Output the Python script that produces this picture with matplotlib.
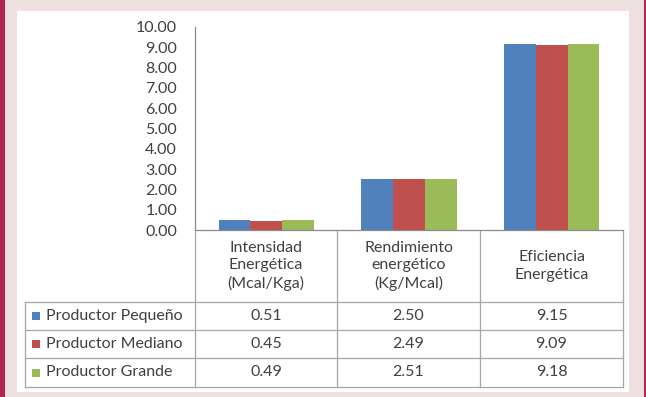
import numpy as np
import matplotlib.pyplot as plt
from matplotlib.lines import Line2D
from matplotlib.patches import Rectangle

categories = ["Intensidad\nEnergética\n(Mcal/Kga)",
              "Rendimiento\nenergético\n(Kg/Mcal)",
              "Eficiencia\nEnergética"]
series = ["Productor Pequeño", "Productor Mediano", "Productor Grande"]
pequeno = [0.51, 2.50, 9.15]
mediano = [0.45, 2.49, 9.09]
grande = [0.49, 2.51, 9.18]
y_ticks = [0, 1, 2, 3, 4, 5, 6, 7, 8, 9, 10]

COLORS = ["#4F81BD", "#C0504D", "#9BBB59"]
TEXT = "#404040"
GRID = "#a6a6a6"
W, H = 646, 397
FS = 11.5

plt.rcParams["font.family"] = ["Lato", "DejaVu Sans"]


def fx(x):
    return x / W


def fy(y):
    return 1 - y / H


def hline(fig, x0, x1, y, color=GRID, lw=0.9):
    fig.add_artist(Line2D([fx(x0), fx(x1)], [fy(y), fy(y)], color=color, lw=lw,
                          transform=fig.transFigure))


def vline(fig, x, y0, y1, color=GRID, lw=0.9):
    fig.add_artist(Line2D([fx(x), fx(x)], [fy(y0), fy(y1)], color=color, lw=lw,
                          transform=fig.transFigure))


fig = plt.figure(figsize=(W / 100, H / 100), dpi=100)
fig.patch.set_facecolor("#efe1df")

# page frame: crimson edges and white chart panel (kept behind the axes)
fig.add_artist(Rectangle((0, 0), fx(5), 1, transform=fig.transFigure,
                         color="#b82450", lw=0, zorder=-10))
fig.add_artist(Rectangle((fx(644), 0), fx(2), 1, transform=fig.transFigure,
                         color="#b82450", lw=0, zorder=-10))
fig.add_artist(Rectangle((fx(17), fy(392)), fx(629 - 17), (392 - 11) / H,
                         transform=fig.transFigure, color="white", lw=0,
                         zorder=-10))

# plot area
left, right, top, bottom = 195, 623, 27, 230
ax = fig.add_axes([fx(left), fy(bottom), fx(right - left), (bottom - top) / H])
ax.set_facecolor("none")
x = np.arange(len(categories))
bw = 0.222
for i, (vals, col) in enumerate(zip([pequeno, mediano, grande], COLORS)):
    ax.bar(x + (i - 1) * bw, vals, width=bw, color=col, lw=0)
ax.set_xlim(-0.5, 2.5)
ax.set_ylim(0, 10)
ax.set_yticks(y_ticks)
ax.set_yticklabels([f"{v:.2f}" for v in y_ticks], fontsize=FS, color=TEXT)
ax.tick_params(axis="y", length=0, pad=13)
ax.set_xticks([])
for s in ["top", "right"]:
    ax.spines[s].set_visible(False)
for s in ["left", "bottom"]:
    ax.spines[s].set_color("#8a8a8a")
    ax.spines[s].set_linewidth(0.9)

# data table below the axis
cols = [195, 337, 480, 623]
rows = [302, 330, 358, 387]
tab_left = 25
for cx in cols:
    vline(fig, cx, 231, 387)
vline(fig, tab_left, 302, 387)
for ry in rows:
    hline(fig, tab_left, 623, ry)

for j, cat in enumerate(categories):
    cx = (cols[j] + cols[j + 1]) / 2
    fig.text(fx(cx), fy(266), cat, ha="center", va="center", fontsize=FS,
             color=TEXT, linespacing=1.3)

table_vals = [pequeno, mediano, grande]
for i, name in enumerate(series):
    cy = (rows[i] + rows[i + 1]) / 2
    fig.add_artist(Rectangle((fx(32), fy(cy + 4)), fx(8), 8 / H,
                             transform=fig.transFigure, color=COLORS[i], lw=0))
    fig.text(fx(46), fy(cy), name, ha="left", va="center", fontsize=FS,
             color=TEXT)
    for j, v in enumerate(table_vals[i]):
        cx = (cols[j] + cols[j + 1]) / 2
        fig.text(fx(cx), fy(cy), f"{v:.2f}", ha="center", va="center",
                 fontsize=FS, color=TEXT)

fig.savefig("out.png", dpi=100, facecolor=fig.get_facecolor())
